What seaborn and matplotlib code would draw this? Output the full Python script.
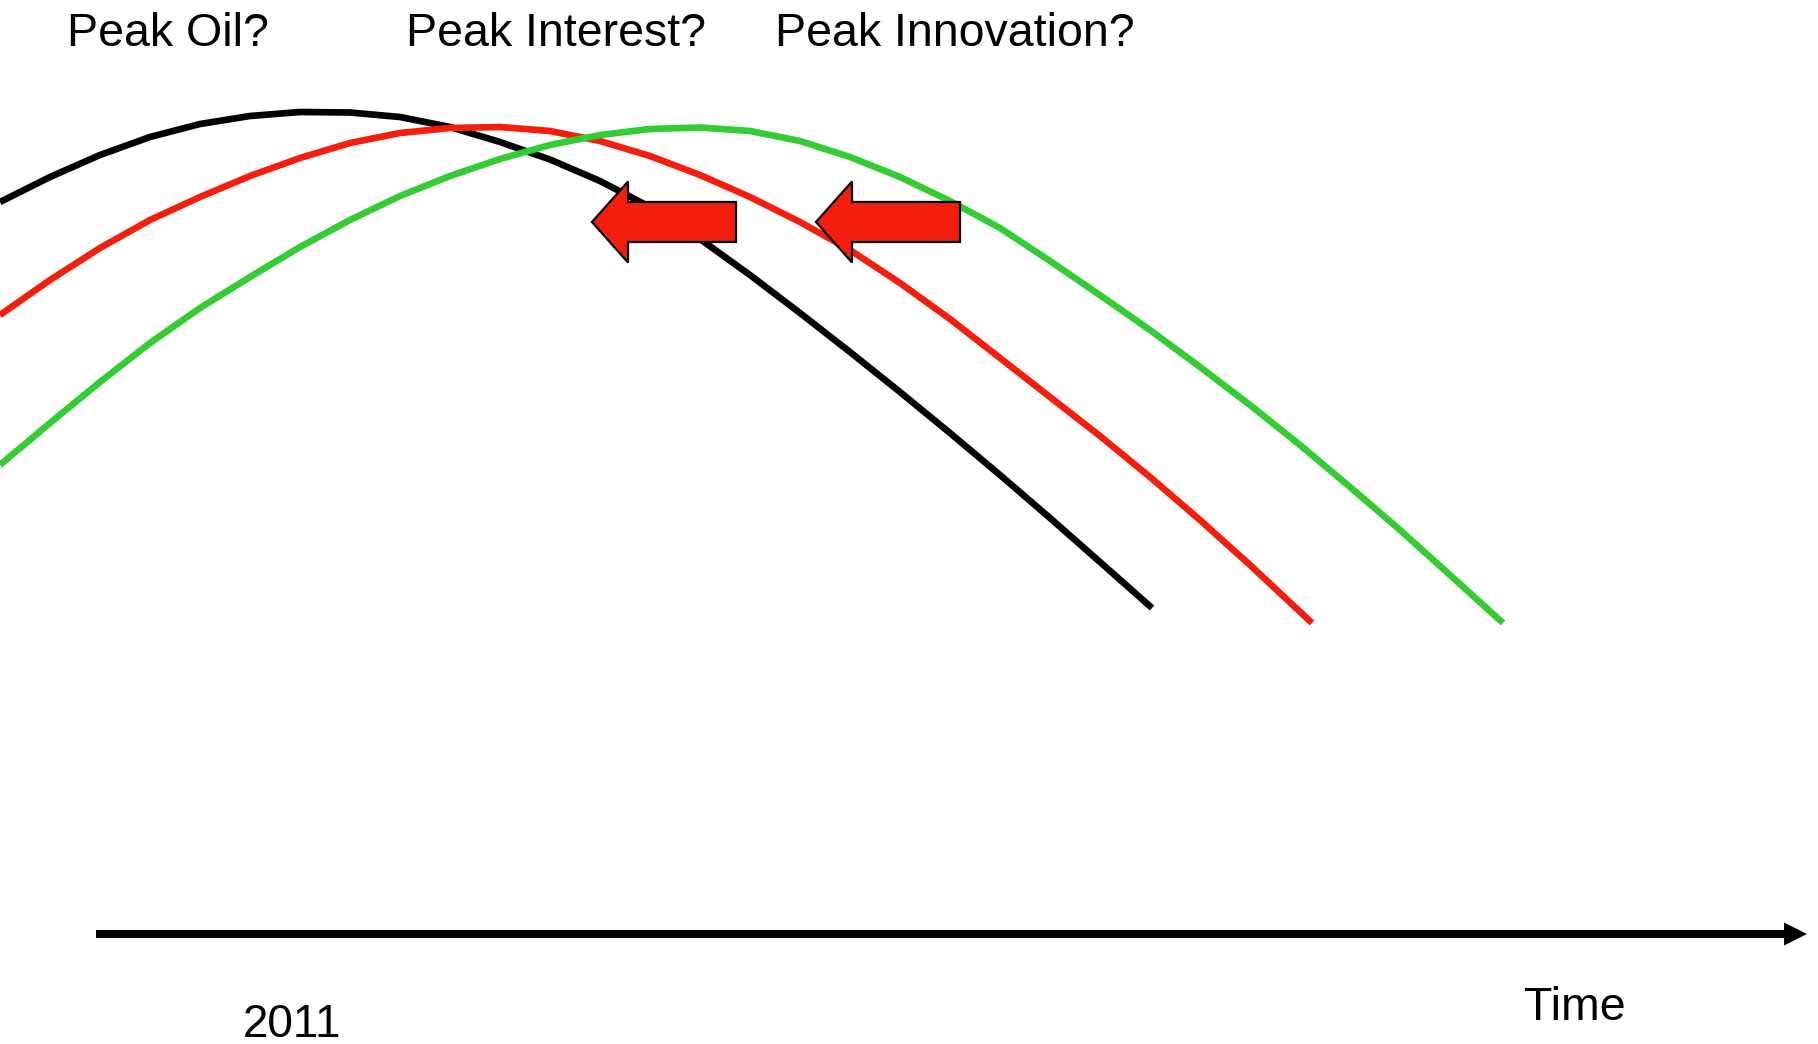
import matplotlib
matplotlib.use("Agg")
import matplotlib.pyplot as plt
from matplotlib.patches import FancyArrow
import seaborn as sns
import pandas as pd

# --- data (pixel-space coordinates, y grows downward) ---
oil_x = [0, 50, 100, 150, 200, 250, 300, 350, 400, 450, 500, 550, 600, 650,
         700, 750, 800, 850, 900, 950, 1000, 1050, 1100, 1152]
oil_y = [202, 177, 155, 137, 124, 116, 112, 112.5, 117, 127, 142, 159.5, 181, 207,
         239, 275, 313, 352, 392, 433, 475, 518, 562, 608]

interest_x = [0, 50, 100, 150, 200, 250, 300, 350, 400, 450, 500, 550, 600, 650, 700,
              750, 800, 850, 900, 950, 1000, 1050, 1100, 1150, 1200, 1250, 1312]
interest_y = [315, 280, 248, 220, 197, 176, 158, 143, 133, 128, 127, 131, 141, 156, 175,
              197, 222, 250, 283, 319, 358, 397, 436, 477, 520, 565, 623]

innovation_x = [0, 50, 100, 150, 200, 250, 300, 350, 400, 450, 500, 550, 600, 650, 700,
                750, 800, 850, 900, 950, 1000, 1050, 1107, 1150, 1200, 1250, 1300, 1350,
                1400, 1450, 1503]
innovation_y = [465, 423, 382, 343, 308, 277, 247, 220, 196, 176, 159, 145, 135, 129, 127.5,
                131, 141, 157, 177, 201, 228, 261, 300, 330, 367, 405, 445, 487,
                530, 575, 623]

series_names = ["Oil", "Interest", "Innovation"]
series_colors = {"Oil": "#000000", "Interest": "#F41E0F", "Innovation": "#33CC33"}

peak_labels = ["Peak Oil?", "Peak Interest?", "Peak Innovation?"]
bottom_left_label = "2011"
axis_label = "Time"

frames = []
for name, xs, ys in zip(series_names,
                        [oil_x, interest_x, innovation_x],
                        [oil_y, interest_y, innovation_y]):
    frames.append(pd.DataFrame({"x": xs, "y": ys, "series": name}))
df = pd.concat(frames, ignore_index=True)

# --- figure ---
sns.set_theme(style="white")
plt.rcParams["font.family"] = ["Liberation Sans", "DejaVu Sans"]

W, H = 1818, 1044
fig = plt.figure(figsize=(W / 100, H / 100), dpi=100)
ax = fig.add_axes([0, 0, 1, 1])
ax.set_xlim(0, W)
ax.set_ylim(H, 0)
ax.axis("off")

sns.lineplot(data=df, x="x", y="y", hue="series", units="series", estimator=None,
             sort=False, palette=series_colors, hue_order=series_names,
             legend=False, ax=ax, zorder=2)
for ln in ax.lines:
    ln.set_linewidth(4.8)
    ln.set_solid_capstyle("butt")
    ln.set_solid_joinstyle("round")
    ln.set_antialiased(True)

# red block arrows pointing left
for x_right in (736, 960):
    ax.add_patch(FancyArrow(x_right, 222, -144, 0, width=40, head_width=81,
                            head_length=36, length_includes_head=True,
                            facecolor="#F41E0F", edgecolor="black", linewidth=1.6,
                            zorder=4))

# time axis arrow
ax.add_patch(FancyArrow(96, 934, 1711, 0, width=8, head_width=23, head_length=23,
                        length_includes_head=True, facecolor="black",
                        edgecolor="black", linewidth=0, zorder=3))

# texts
for label, x in zip(peak_labels, [67, 406, 775]):
    ax.text(x, 46, label, fontsize=33.5, ha="left", va="baseline", color="black")
ax.text(243, 1037, bottom_left_label, fontsize=33, ha="left", va="baseline", color="black")
ax.text(1524, 1020, axis_label, fontsize=33.5, ha="left", va="baseline", color="black")

fig.savefig("out.png", dpi=100, facecolor="white")
